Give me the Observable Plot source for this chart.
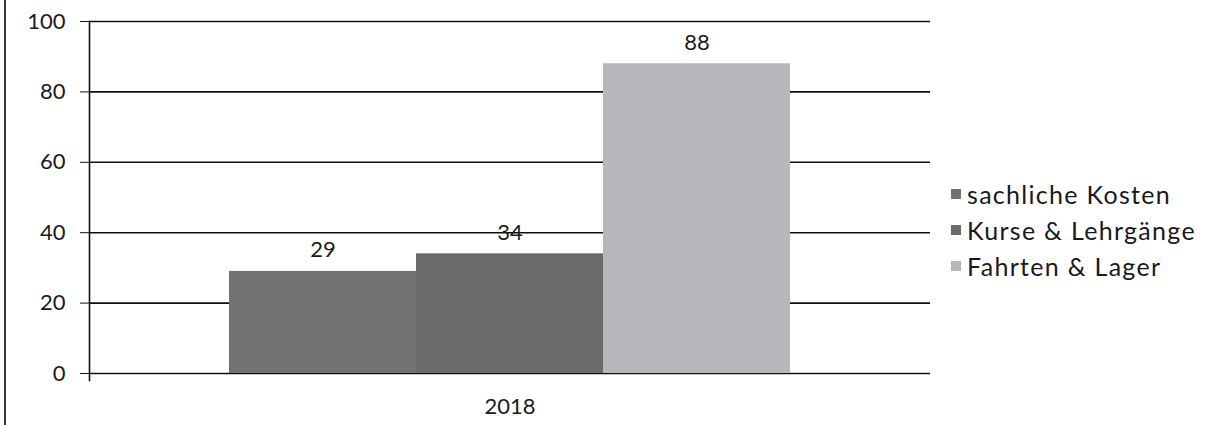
<!DOCTYPE html>
<html><head><meta charset="utf-8">
<script src="https://cdn.jsdelivr.net/npm/d3@7"></script>
<script src="https://cdn.jsdelivr.net/npm/@observablehq/plot@0.6"></script>
<style>
body{margin:0;background:#fff;font-family:Lato,"Open Sans",sans-serif;}
#wrap{position:relative;width:1205px;height:425px;overflow:hidden;}
#border{position:absolute;left:4px;top:0;width:2px;height:425px;background:#333;}
#legend{position:absolute;left:951px;top:176px;}
.item{display:flex;align-items:center;height:36px;font-size:25px;letter-spacing:1.3px;color:#1a1a1a;}
.sw{width:10px;height:10px;margin-right:6px;}
</style></head>
<body><div id="wrap"><div id="chart"></div><div id="border"></div><div id="legend"></div></div>
<script>
const years = ["2018"];
const series = ["sachliche Kosten", "Kurse & Lehrgänge", "Fahrten & Lager"];
const values = [29, 34, 88];
const colors = ["#727272", "#6a6a6a", "#b7b7bb"];
const yTicks = [0, 20, 40, 60, 80, 100];

const data = series.map((s, i) => ({year: years[0], series: s, value: values[i]}));

const chart = Plot.plot({
  width: 1205, height: 425,
  marginTop: 21, marginBottom: 52, marginLeft: 89, marginRight: 275,
  style: {fontFamily: "Lato", fontSize: "22px", color: "#1a1a1a", background: "#fff"},
  y: {domain: [0, 100], ticks: yTicks},
  fx: {domain: years, padding: 0, label: null},
  x: {domain: series, paddingInner: 0, paddingOuter: 0.74, axis: null},
  color: {domain: series, range: colors},
  marks: [
    Plot.ruleY(yTicks, {stroke: "#111", strokeWidth: 1.6}),
    Plot.barY(data, {fx: "year", x: "series", y: "value", fill: "series"}),
    Plot.text(data, {fx: "year", x: "series", y: "value", text: d => String(d.value), dy: -21, fontSize: 22, fill: "#1a1a1a"}),
    Plot.frame({anchor: "left", stroke: "#111", strokeWidth: 1.6, insetBottom: -7}),
    Plot.axisY({ticks: yTicks, tickSize: 9, tickPadding: 15, fontSize: 22, label: null, stroke: "#111"}),
    Plot.axisFx({anchor: "bottom", tickSize: 0, tickPadding: 25, fontSize: 22, label: null})
  ]
});
document.getElementById("chart").appendChild(chart);

const legend = document.getElementById("legend");
series.forEach((s, i) => {
  const it = document.createElement("div");
  it.className = "item";
  const sw = document.createElement("span");
  sw.className = "sw";
  sw.style.background = colors[i];
  const t = document.createElement("span");
  t.textContent = s;
  it.appendChild(sw); it.appendChild(t);
  legend.appendChild(it);
});
</script>
</body></html>
